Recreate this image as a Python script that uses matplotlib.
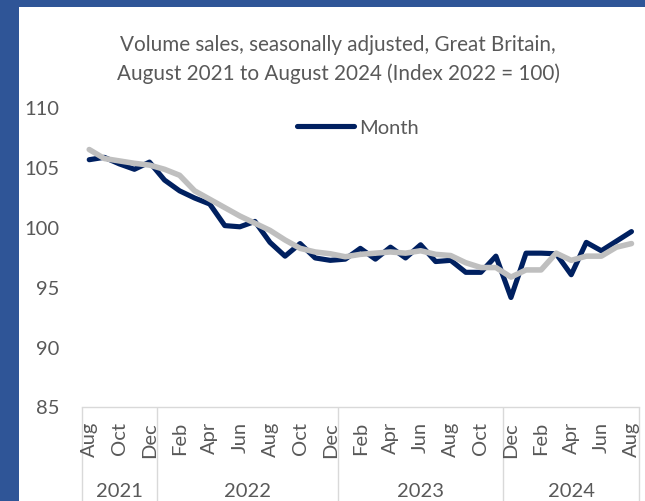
import matplotlib
matplotlib.use("Agg")
import matplotlib.pyplot as plt
from matplotlib.patches import Rectangle

# Monthly index values, Aug 2021 .. Aug 2024
months = ["Aug", "Sep", "Oct", "Nov", "Dec",
          "Jan", "Feb", "Mar", "Apr", "May", "Jun", "Jul", "Aug", "Sep", "Oct", "Nov", "Dec",
          "Jan", "Feb", "Mar", "Apr", "May", "Jun", "Jul", "Aug", "Sep", "Oct", "Nov",
          "Dec", "Jan", "Feb", "Mar", "Apr", "May", "Jun", "Jul", "Aug"]

monthly = [105.6, 105.8, 105.25, 104.8, 105.4,
           103.9, 103.0, 102.4, 101.9, 100.1, 100.0, 100.45, 98.7, 97.55, 98.6, 97.4, 97.2,
           97.3, 98.2, 97.3, 98.3, 97.4, 98.5, 97.1, 97.2, 96.2, 96.2, 97.55,
           94.1, 97.8, 97.8, 97.75, 96.0, 98.7, 98.0, 98.8, 99.6]

smoothed = [106.45, 105.7, 105.5, 105.3, 105.15,
            104.8, 104.3, 103.0, 102.3, 101.6, 100.9, 100.3, 99.7, 98.9, 98.2, 97.9, 97.75,
            97.5, 97.7, 97.8, 97.9, 97.8, 98.0, 97.7, 97.6, 97.0, 96.6, 96.6,
            95.8, 96.4, 96.4, 97.8, 97.2, 97.55, 97.55, 98.3, 98.6]

# Year groups on the category axis: (label, first index, last index)
year_labels = ["2021", "2022", "2023", "2024"]
year_starts = [0, 5, 17, 28]
year_ends = [4, 16, 27, 36]

y_ticks = [85, 90, 95, 100, 105, 110]

TEXT = "#595959"
NAVY = "#002060"
GREY = "#BFBFBF"
FRAME = "#2F5597"
AXISLINE = "#D9D9D9"

plt.rcParams["font.family"] = ["Lato", "DejaVu Sans"]

W, H = 645, 502
fig = plt.figure(figsize=(W / 100, H / 100), dpi=100)
fig.patch.set_facecolor("white")

# Blue frame strips along the left and top edges
fig.patches.append(Rectangle((0, 0), 19 / W, 1, transform=fig.transFigure,
                             facecolor=FRAME, edgecolor="none", zorder=0))
fig.patches.append(Rectangle((0, 1 - 8 / H), 1, 8 / H, transform=fig.transFigure,
                             facecolor=FRAME, edgecolor="none", zorder=0))

left, right, top, bottom = 81.7, 639, 108, 407.5
ax = fig.add_axes([left / W, 1 - bottom / H, (right - left) / W, (bottom - top) / H])
ax.set_facecolor("none")

x = list(range(len(monthly)))
ax.plot(x, monthly, color=NAVY, lw=3.7, solid_joinstyle="round",
        solid_capstyle="round", label="Month", zorder=3)
ax.plot(x, smoothed, color=GREY, lw=4.0, solid_joinstyle="round",
        solid_capstyle="round", zorder=4)

ax.set_xlim(-0.5, len(monthly) - 0.5)
ax.set_ylim(85, 110)
ax.set_yticks(y_ticks)
ax.set_yticklabels([str(v) for v in y_ticks])
ax.tick_params(axis="y", length=0, pad=16, labelsize=14.5, labelcolor=TEXT)
ax.set_xticks([])

for side in ["left", "right", "top", "bottom"]:
    ax.spines[side].set_visible(False)

# Category axis: baseline and group separators
xt = ax.get_xaxis_transform()
depth = -(H - bottom) / (bottom - top) - 0.01
ax.plot([-0.5, len(monthly) - 0.5], [0, 0], transform=xt, color=AXISLINE,
        lw=1.0, clip_on=False, zorder=2)
seps = [-0.5] + [e + 0.5 for e in year_ends]
ax.vlines(seps, depth, 0, transform=xt, colors=AXISLINE, lw=1.0, clip_on=False)

month_y = -(422 - bottom) / (bottom - top)
for i in range(0, len(months), 2):
    ax.text(i, month_y, months[i], transform=xt, rotation=90, ha="center",
            va="top", fontsize=14.5, color=TEXT)

year_y = -(492 - bottom) / (bottom - top)
for lab, s, e in zip(year_labels, year_starts, year_ends):
    ax.text((s + e) / 2, year_y, lab, transform=xt, ha="center", va="center",
            fontsize=14.5, color=TEXT)

fig.text(338 / W, 1 - 45 / H, "Volume sales, seasonally adjusted, Great Britain,",
         ha="center", va="center", fontsize=14.9, color=TEXT)
fig.text(338 / W, 1 - 74 / H, "August 2021 to August 2024 (Index 2022 = 100)",
         ha="center", va="center", fontsize=14.9, color=TEXT)

ax.legend(loc="center", bbox_to_anchor=(358 / W, 1 - 128 / H),
          bbox_transform=fig.transFigure, frameon=False, fontsize=14.5,
          labelcolor=TEXT, handlelength=2.8, handletextpad=0.25)

fig.savefig("out.png", dpi=100, facecolor="white")
